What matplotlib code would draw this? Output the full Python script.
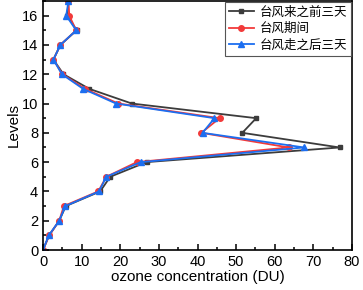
import matplotlib
matplotlib.use('Agg')
import matplotlib.pyplot as plt
from matplotlib.ticker import MultipleLocator

# 高度层
levels = list(range(0, 18))
# 三个时段的臭氧浓度 (DU)
before = [0, 1.6, 4.2, 5.9, 14.8, 17.4, 26.8, 76.8, 51.6, 55.2, 23.0, 12.0, 5.3, 2.7, 4.5, 8.7, 6.3, 6.6]
during = [0, 1.6, 4.2, 5.4, 14.3, 16.4, 24.3, 63.6, 41.0, 45.7, 19.5, 10.9, 5.0, 2.7, 4.5, 8.6, 6.8, 6.6]
after = [0, 1.5, 4.2, 5.8, 14.5, 16.4, 25.3, 67.6, 41.3, 44.4, 18.9, 10.4, 4.9, 2.7, 4.5, 8.6, 6.0, 6.6]
labels = ['台风来之前三天', '台风期间', '台风走之后三天']

plt.rcParams['font.family'] = ['Liberation Sans', 'DejaVu Sans']

fig = plt.figure(figsize=(3.63, 2.90), dpi=100)
ax = fig.add_axes([43 / 363, 40 / 290, 309 / 363, 249 / 290])

ax.plot(before, levels, color='#3c3c3c', marker='s', markersize=3.5, linewidth=1.3, label=labels[0])
ax.plot(during, levels, color='#f23a3a', marker='o', markersize=4, linewidth=1.3, label=labels[1])
ax.plot(after, levels, color='#1c6ef0', marker='^', markersize=4, linewidth=1.3, label=labels[2])

ax.set_xlim(0, 80)
ax.set_ylim(0, 17)
ax.xaxis.set_major_locator(MultipleLocator(10))
ax.xaxis.set_minor_locator(MultipleLocator(5))
ax.yaxis.set_major_locator(MultipleLocator(2))
ax.yaxis.set_minor_locator(MultipleLocator(1))
ax.tick_params(which='both', direction='in', labelsize=10.5, width=1.1)
ax.tick_params(which='major', length=4)
ax.tick_params(which='minor', length=2.5)
for s in ax.spines.values():
    s.set_linewidth(1.2)

ax.set_xlabel('ozone concentration (DU)', fontsize=11, labelpad=1)
ax.set_ylabel('Levels', fontsize=11, labelpad=1)

leg = ax.legend(loc='upper right', prop={'family': ['Noto Sans CJK SC', 'DejaVu Sans'], 'size': 9},
                fancybox=False, edgecolor='#555555', framealpha=1, borderpad=0.3,
                labelspacing=0.3, handlelength=2.0, handletextpad=0.5, borderaxespad=0.05)
leg.get_frame().set_linewidth(0.8)

fig.savefig('out.png', dpi=100)
